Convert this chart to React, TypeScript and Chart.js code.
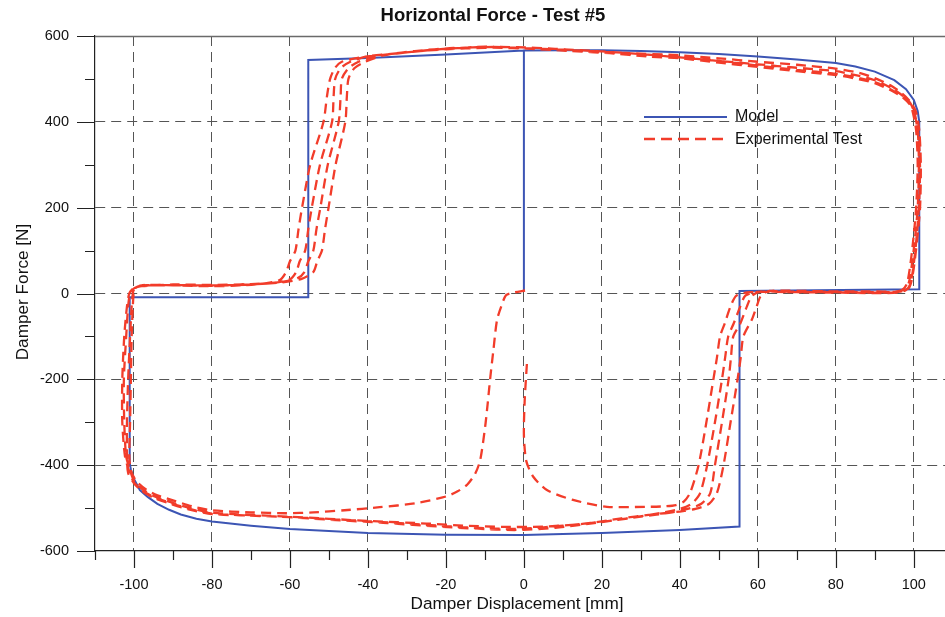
import { useEffect, useRef } from "react";
import { Chart, registerables } from "chart.js";

Chart.register(...registerables);

const titleText = "Horizontal Force - Test #5";
const xAxisTitle = "Damper Displacement [mm]";
const yAxisTitle = "Damper Force [N]";
const legendLabels = ["Model", "Experimental Test"];

const xMajorTicks = [-100, -80, -60, -40, -20, 0, 20, 40, 60, 80, 100];
const xMinorTicks = [-110, -90, -70, -50, -30, -10, 10, 30, 50, 70, 90];
const yMajorTicks = [-600, -400, -200, 0, 200, 400, 600];
const yMinorTicks = [-500, -300, -100, 100, 300, 500];

type P = [number, number];

const modelCurve: P[] = [
  [0, 5], [0, 566], [10, 567], [20, 567], [30, 565], [40, 562], [50, 558], [60, 552], [70, 545],
  [80, 537], [85, 529], [90, 517], [95, 497], [98, 476], [100, 451], [101, 425], [101.4, 400],
  [101.4, 10], [55.3, 6], [55.3, -543], [40, -551], [20, -558], [0, -563], [-20, -562], [-40, -558],
  [-60, -549], [-70, -541], [-80, -531], [-84, -525], [-88, -515], [-91, -504], [-94, -490],
  [-96.5, -474], [-98.5, -458], [-100, -432], [-100.8, -410], [-101.1, -395], [-101.1, -9],
  [-55.3, -9], [-55.3, 544], [-40, 549], [-20, 557], [0, 566],
];

const expStart: P[] = [
  [0.3, 7], [-2.7, 2], [-4.6, -4], [-5.8, -30], [-6.9, -62], [-7.8, -130], [-8.6, -194], [-9.8, -300],
  [-11.2, -388], [-12.5, -420], [-14.5, -445], [-17, -461], [-20, -473], [-28, -489], [-37, -498],
  [-46, -505], [-54, -510], [-61, -512], [-70, -510], [-80, -505], [-85, -496], [-90, -482],
  [-94, -470], [-97, -456], [-99.5, -436], [-100.8, -412], [-101.2, -380], [-101, -300],
  [-100.8, -200], [-100.6, -100], [-100.3, -30], [-100, 5], [-99.3, 15], [-97, 20],
];

const expCycle1: P[] = [
  [-90, 19], [-80, 17], [-72, 19], [-66, 24], [-62.5, 32], [-61, 50], [-60, 75], [-58.6, 100],
  [-57.8, 150], [-56.9, 200], [-54.8, 300], [-51.4, 400], [-50.5, 460], [-49.7, 500], [-48.5, 525],
  [-46.7, 540], [-42, 550], [-35, 557], [-25, 566], [-15, 571], [-5, 573], [5, 570], [15, 566],
  [25, 561], [40, 555], [50, 548], [60, 540], [70, 533], [80, 524], [86, 514], [90, 502], [94, 485],
  [97, 466], [99, 448], [100.5, 425], [101.4, 380], [101.8, 300], [101.6, 200], [100.8, 120],
  [100, 60], [99.3, 25], [98.5, 10], [96, 4], [90, 5], [80, 5], [70, 6], [63, 6], [60.8, -5],
  [59.7, -30], [58.5, -60], [56.3, -100], [55.6, -150], [54.8, -200], [53, -300], [51.2, -400],
  [49.5, -465], [47.5, -490], [44, -502], [40, -508], [32, -516], [25, -524], [15, -537], [5, -543],
  [-5, -544], [-15, -541], [-25, -536], [-40, -530], [-60, -520], [-80, -511], [-86, -499],
  [-91, -485], [-95, -472], [-98, -455], [-100, -436], [-101, -412], [-102, -380], [-102.5, -300],
  [-102.6, -200], [-102, -100], [-101.5, -30], [-101, 0], [-100, 12], [-98, 18],
];

const expCycle2: P[] = [
  [-90, 20], [-80, 19], [-70, 21], [-64, 25], [-60, 33], [-58.4, 50], [-57.5, 75], [-56.1, 100],
  [-55.3, 150], [-54.4, 200], [-52.3, 300], [-49.2, 400], [-48.8, 460], [-48.4, 500], [-47, 525],
  [-44.5, 540], [-40, 553], [-32, 560], [-22, 569], [-12, 574], [-2, 574], [8, 570], [20, 564],
  [30, 558], [40, 550], [50, 542], [60, 534], [70, 526], [80, 518], [86, 507], [90, 497], [94, 480],
  [97, 462], [99, 445], [100, 425], [101, 380], [101.3, 300], [101, 200], [100.2, 120], [99.4, 60],
  [98.7, 25], [97.6, 10], [95, 4], [90, 3], [80, 4], [70, 4], [61, 5], [58.5, -5], [57.2, -30],
  [55.5, -70], [53.7, -100], [53.1, -150], [52.5, -200], [50.8, -300], [49, -400], [47.8, -465],
  [45.5, -490], [42, -502], [38, -510], [30, -520], [20, -532], [10, -541], [0, -548], [-10, -547],
  [-20, -542], [-30, -536], [-45, -528], [-60, -521], [-80, -513], [-86, -501], [-91, -487],
  [-95, -474], [-98, -458], [-100, -440], [-101.2, -415], [-102.3, -380], [-103, -300],
  [-103, -200], [-102.5, -100], [-101.8, -30], [-101.2, 0], [-100.2, 12], [-98, 17],
];

const expCycle3: P[] = [
  [-90, 21], [-80, 20], [-70, 22], [-62, 27], [-58, 36], [-56.3, 50], [-55.3, 75], [-54, 100],
  [-53.2, 150], [-52.2, 200], [-50.3, 300], [-47.5, 400], [-47, 460], [-46.7, 500], [-45, 525],
  [-42.4, 540], [-38, 552], [-30, 562], [-20, 570], [-10, 575], [0, 572], [10, 567], [20, 562],
  [30, 556], [40, 552], [50, 542], [60, 531], [70, 521], [80, 512], [86, 502], [90, 493], [94, 476],
  [97, 460], [99, 442], [99.8, 420], [100.6, 380], [101, 300], [100.6, 200], [99.8, 120], [99, 60],
  [98.2, 22], [97, 8], [95, 3], [90, 2], [80, 3], [70, 3], [60, 4], [56.8, -5], [55.5, -30],
  [53.8, -70], [52.4, -100], [51.6, -150], [50.8, -200], [49, -300], [47, -400], [45.2, -465],
  [43, -490], [40, -502], [36, -510], [28, -522], [18, -535], [8, -546], [-2, -551], [-12, -548],
  [-22, -543], [-35, -535], [-50, -527], [-65, -519], [-80, -514], [-86, -503], [-91, -489],
  [-95, -476], [-98, -460], [-100, -442], [-101.5, -418], [-101.8, -380], [-101.8, -300],
  [-101.5, -200], [-101, -100], [-100.6, -30], [-100.2, 5], [-99.5, 14], [-98, 19],
];

const expCycle4: P[] = [
  [-90, 19], [-80, 18], [-70, 21], [-62, 26], [-57, 34], [-54, 50], [-53, 75], [-51.8, 100],
  [-51, 150], [-50.1, 200], [-48.3, 300], [-45.8, 400], [-45.4, 460], [-45, 500], [-43.5, 525],
  [-40.7, 540], [-36, 555], [-28, 565], [-18, 572], [-8, 573], [2, 570], [12, 565], [22, 560],
  [32, 552], [40, 548], [50, 538], [60, 528], [70, 518], [80, 509], [86, 499], [90, 490], [94, 474],
  [97, 458], [99, 440], [100.2, 420], [101.2, 370], [101.6, 290], [101.3, 200], [100.5, 110],
  [99.7, 50], [99, 20], [98, 8], [96, 2], [90, 1], [80, 2], [70, 3], [58, 3], [54.5, -5], [53, -30],
  [51.5, -70], [50.3, -100], [49.5, -150], [48.6, -200], [46.8, -300], [44.8, -400], [42.6, -465],
  [41, -485], [39, -493], [36, -496], [31.5, -497], [21.3, -497], [12.6, -481], [5.9, -458],
  [2.4, -427], [0.6, -390], [0, -330], [0.2, -250], [0.8, -159],
];

const BLUE = "#3c55b4";
const RED = "#f23c2a";
const FONT = "'Liberation Sans', Arial, Helvetica, sans-serif";

const toXY = (arr: P[]) => arr.map(([x, y]) => ({ x, y }));

const decorations = {
  id: "decorations",
  afterDraw(chart: any) {
    const { ctx, scales } = chart;
    const xs = scales.x;
    const ys = scales.y;
    const left = chart.chartArea.left;
    const right = chart.chartArea.right;
    const top = chart.chartArea.top;
    const bottom = chart.chartArea.bottom;
    ctx.save();
    // top frame line
    ctx.strokeStyle = "#6a6a6a";
    ctx.lineWidth = 1.5;
    ctx.beginPath();
    ctx.moveTo(left, top + 0.5);
    ctx.lineTo(right, top + 0.5);
    ctx.stroke();
    // tick marks
    ctx.strokeStyle = "#222";
    ctx.lineWidth = 1.2;
    ctx.beginPath();
    for (const v of yMajorTicks) {
      const py = Math.round(ys.getPixelForValue(v)) + 0.5;
      ctx.moveTo(left - 18, py);
      ctx.lineTo(left, py);
    }
    for (const v of yMinorTicks) {
      const py = Math.round(ys.getPixelForValue(v)) + 0.5;
      ctx.moveTo(left - 10, py);
      ctx.lineTo(left, py);
    }
    for (const v of xMajorTicks) {
      const px = Math.round(xs.getPixelForValue(v)) + 0.5;
      ctx.moveTo(px, bottom);
      ctx.lineTo(px, bottom + 17);
    }
    for (const v of xMinorTicks) {
      const px = Math.round(xs.getPixelForValue(v)) + 0.5;
      ctx.moveTo(px, bottom);
      ctx.lineTo(px, bottom + 9);
    }
    ctx.stroke();

    // titles
    ctx.fillStyle = "#111";
    ctx.textAlign = "center";
    ctx.textBaseline = "middle";
    ctx.font = `bold 18.5px ${FONT}`;
    ctx.fillText(titleText, 493, 16);
    ctx.font = `17.2px ${FONT}`;
    ctx.fillText(xAxisTitle, 517, 604);
    ctx.save();
    ctx.translate(23, 292);
    ctx.rotate(-Math.PI / 2);
    ctx.fillText(yAxisTitle, 0, 0);
    ctx.restore();

    // legend
    ctx.lineWidth = 2;
    ctx.strokeStyle = BLUE;
    ctx.beginPath();
    ctx.moveTo(644, 117);
    ctx.lineTo(727, 117);
    ctx.stroke();
    ctx.lineWidth = 2.5;
    ctx.strokeStyle = RED;
    ctx.setLineDash([11, 6]);
    ctx.beginPath();
    ctx.moveTo(644, 139);
    ctx.lineTo(727, 139);
    ctx.stroke();
    ctx.setLineDash([]);
    ctx.textAlign = "left";
    ctx.font = `16px ${FONT}`;
    ctx.fillStyle = "#111";
    ctx.fillText(legendLabels[0], 735, 117);
    ctx.fillText(legendLabels[1], 735, 140);
    ctx.restore();
  },
};

export default function App() {
  const ref = useRef<HTMLCanvasElement>(null);
  useEffect(() => {
    const chart = new Chart(ref.current!, {
      type: "scatter",
      data: {
        datasets: [
          {
            label: legendLabels[1],
            data: toXY([...expStart, ...expCycle1, ...expCycle2, ...expCycle3, ...expCycle4]),
            showLine: true,
            borderColor: RED,
            borderWidth: 2.3,
            borderDash: [10, 6],
            pointRadius: 0,
            tension: 0.25,
            order: 0,
          } as any,
          {
            label: legendLabels[0],
            data: toXY(modelCurve),
            showLine: true,
            borderColor: BLUE,
            borderWidth: 2,
            pointRadius: 0,
            tension: 0,
            order: 1,
          } as any,
        ],
      },
      options: {
        animation: false,
        responsive: false,
        events: [],
        layout: { padding: { top: 36, left: 0, right: 0, bottom: 0 } },
        plugins: {
          legend: { display: false },
          title: { display: false },
          tooltip: { enabled: false },
        },
        scales: {
          x: {
            type: "linear",
            min: -110,
            max: 108,
            afterBuildTicks: (s: any) => {
              s.ticks = xMajorTicks.map((v) => ({ value: v }));
            },
            afterFit: (s: any) => {
              s.height = 66;
              s.paddingLeft = 0;
              s.paddingRight = 0;
            },
            ticks: {
              autoSkip: false,
              maxRotation: 0,
              padding: 25,
              color: "#111",
              font: { family: FONT, size: 14.5 },
              callback: (v: any) => String(v),
            },
            grid: {
              drawTicks: false,
              color: "#555",
              lineWidth: 1,
            },
            border: { display: true, color: "#222", width: 1.2, dash: [10, 6] },
          },
          y: {
            type: "linear",
            min: -600,
            max: 600,
            afterBuildTicks: (s: any) => {
              s.ticks = yMajorTicks.map((v) => ({ value: v }));
            },
            afterFit: (s: any) => {
              s.width = 95;
              s.paddingTop = 0;
              s.paddingBottom = 0;
            },
            ticks: {
              autoSkip: false,
              padding: 26,
              color: "#111",
              font: { family: FONT, size: 14.5 },
              callback: (v: any) => String(v),
            },
            grid: {
              drawTicks: false,
              color: (c: any) =>
                c.tick && Math.abs(c.tick.value) === 600 ? "rgba(0,0,0,0)" : "#555",
              lineWidth: 1,
            },
            border: { display: true, color: "#222", width: 1.2, dash: [10, 6] },
          },
        },
      },
      plugins: [decorations],
    });
    return () => chart.destroy();
  }, []);
  return (
    <div style={{ position: "fixed", left: 0, top: 0, width: 945, height: 617, background: "#fff" }}>
      <canvas ref={ref} width={945} height={617} style={{ display: "block", width: 945, height: 617 }} />
    </div>
  );
}
